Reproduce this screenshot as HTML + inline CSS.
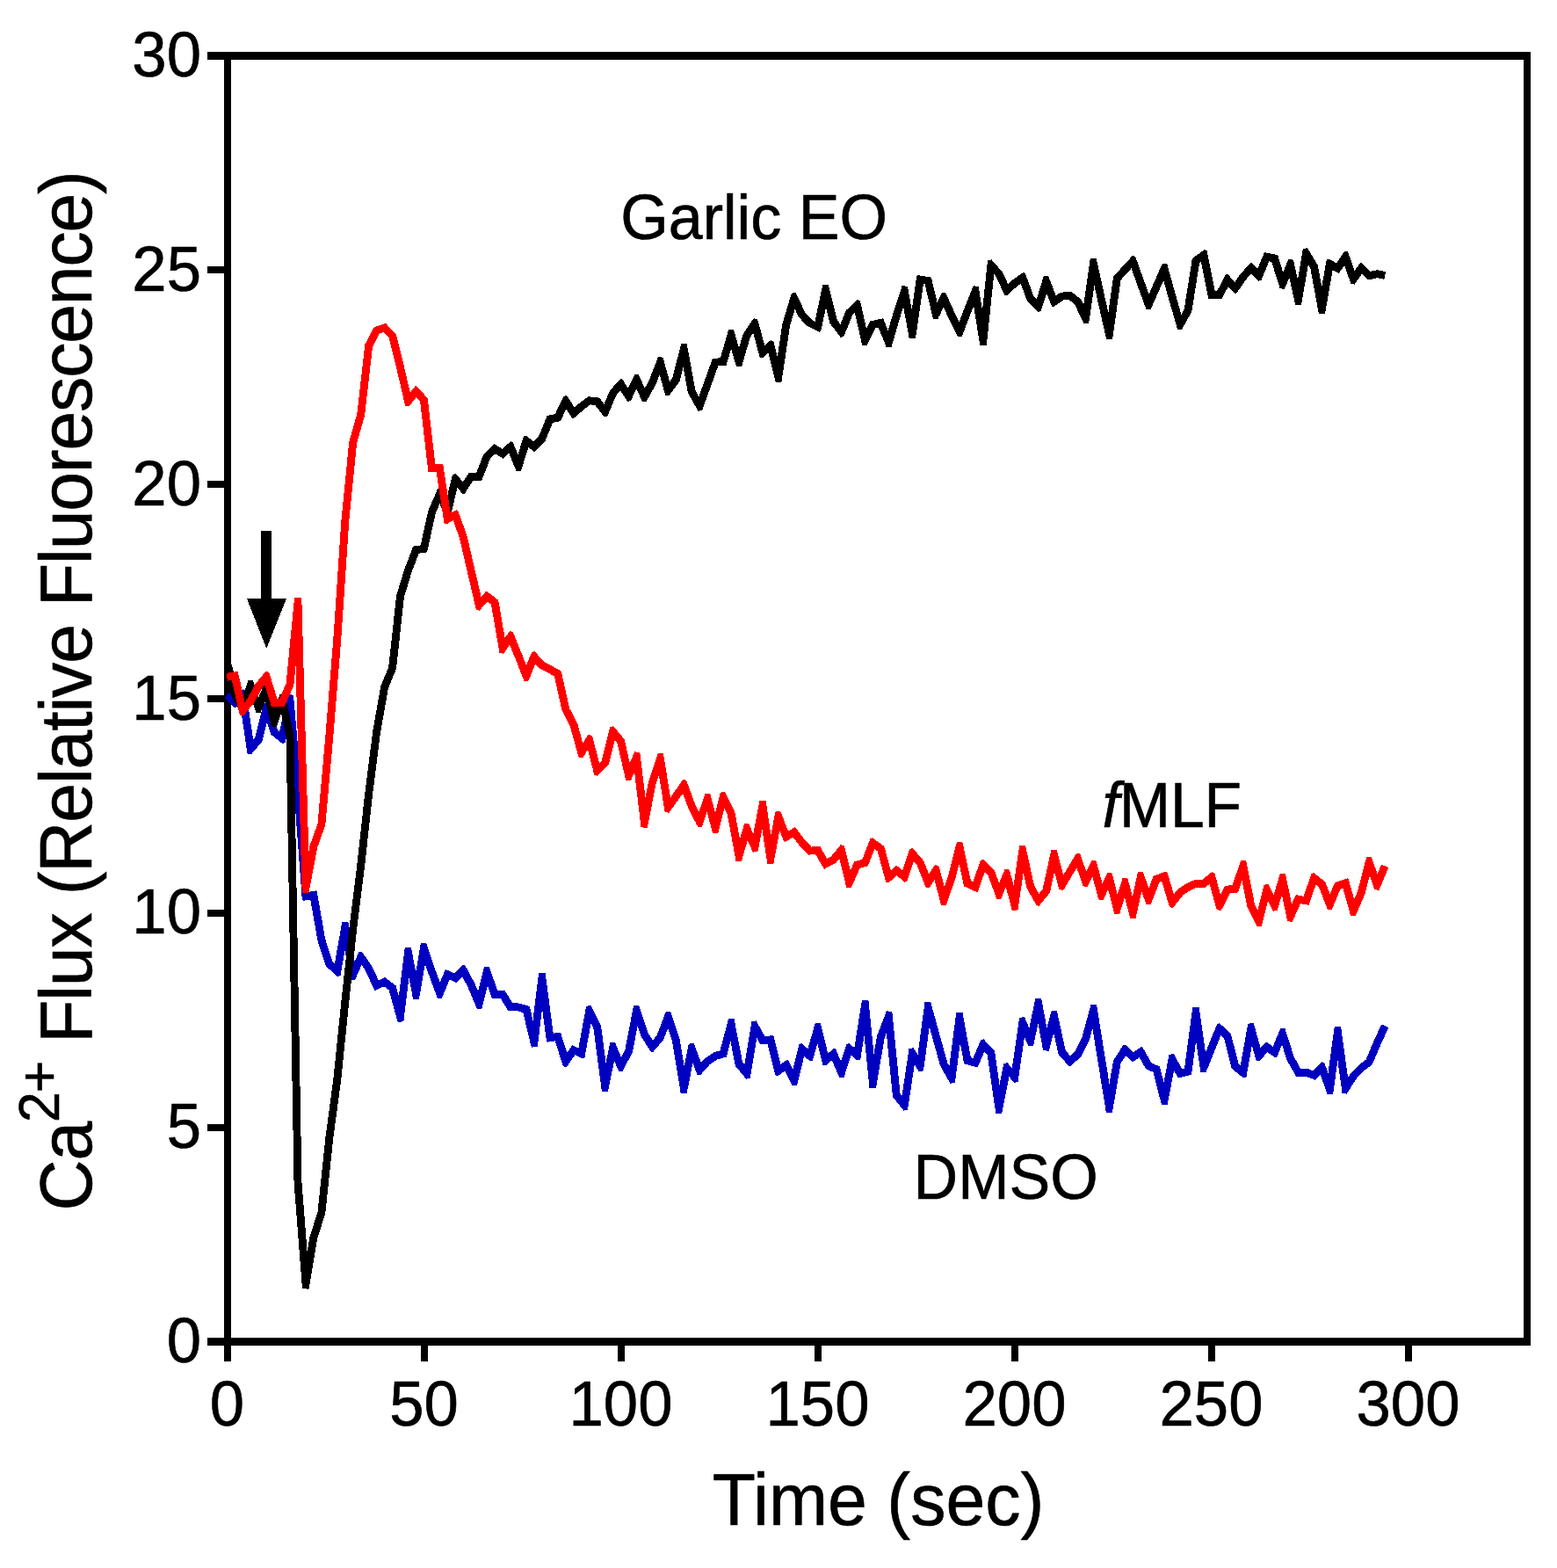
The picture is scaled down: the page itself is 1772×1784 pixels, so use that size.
<!DOCTYPE html>
<html lang="en"><head><meta charset="utf-8"><title>Ca2+ Flux (Relative Fluorescence) vs Time</title>
<style>html,body{margin:0;padding:0;background:#fff}svg{display:block}</style></head>
<body>
<svg width="1772" height="1784" viewBox="0 0 1772 1784" shape-rendering="crispEdges">
<rect x="0" y="0" width="1772" height="1784" fill="#ffffff"/>
<rect x="259.0" y="63.4" width="1479.0" height="1463.1" fill="none" stroke="#000" stroke-width="8.3" stroke-linejoin="miter"/>
<path d="M236 1526.5H259.0M236 1282.7H259.0M236 1038.8H259.0M236 795.0H259.0M236 551.1H259.0M236 307.2H259.0M236 63.4H259.0M259.0 1526.5V1549M483.0 1526.5V1549M707.0 1526.5V1549M931.0 1526.5V1549M1155.0 1526.5V1549M1379.0 1526.5V1549M1603.0 1526.5V1549" stroke="#000" stroke-width="8.3" fill="none"/>
<g fill="#0000c0" stroke="#0000c0"><polyline points="258.3,790.7 267.3,799.5 276.2,790.4 285.2,852.3 294.2,841.6 303.1,805.9 312.1,833.0 321.1,840.1 330.0,796.2 339.0,900.0 348.0,1019.9 356.9,1018.4 365.9,1069.7 374.8,1096.8 383.8,1105.1 392.8,1054.9 401.7,1109.3 410.7,1088.9 419.7,1101.9 428.6,1121.3 437.6,1117.2 446.6,1123.9 455.5,1156.8 464.5,1083.8 473.5,1130.8 482.4,1078.8 491.4,1105.3 500.4,1129.9 509.3,1108.8 518.3,1112.7 527.2,1103.9 536.2,1120.5 545.2,1142.1 554.1,1105.8 563.1,1131.5 572.1,1131.5 581.0,1145.9 590.0,1145.9 599.0,1148.5 607.9,1185.7 616.9,1112.8 625.9,1180.8 634.8,1179.5 643.8,1207.8 652.8,1194.7 661.7,1198.8 670.7,1150.1 679.7,1168.5 688.6,1235.9 697.6,1192.0 706.5,1212.9 715.5,1196.4 724.5,1149.9 733.4,1177.0 742.4,1191.1 751.4,1180.4 760.3,1156.9 769.3,1183.7 778.3,1238.0 787.2,1193.1 796.2,1217.5 805.2,1207.4 814.1,1201.5 823.1,1199.0 832.1,1165.1 841.0,1210.8 850.0,1221.6 859.0,1167.6 867.9,1183.7 876.9,1182.9 885.8,1218.4 894.8,1211.9 903.8,1229.3 912.7,1193.2 921.7,1201.4 930.7,1170.1 939.6,1206.5 948.6,1199.0 957.6,1220.2 966.5,1193.1 975.5,1200.5 984.5,1143.9 993.4,1232.5 1002.4,1179.5 1011.4,1156.4 1020.3,1246.4 1029.3,1257.5 1038.3,1198.4 1047.2,1213.1 1056.2,1146.1 1065.2,1178.7 1074.1,1210.8 1083.1,1226.6 1092.0,1158.0 1101.0,1206.6 1110.0,1209.2 1118.9,1188.4 1127.9,1198.1 1136.9,1260.8 1145.8,1215.3 1154.8,1225.8 1163.8,1163.3 1172.7,1184.5 1181.7,1141.8 1190.7,1189.7 1199.6,1156.1 1208.6,1197.3 1217.6,1207.6 1226.5,1199.8 1235.5,1182.1 1244.5,1149.1 1253.4,1204.4 1262.4,1259.7 1271.3,1208.3 1280.3,1194.3 1289.3,1202.7 1298.2,1196.8 1307.2,1212.5 1316.2,1216.8 1325.1,1251.5 1334.1,1205.1 1343.1,1221.5 1352.0,1219.3 1361.0,1152.0 1370.0,1214.4 1378.9,1192.2 1387.9,1170.2 1396.9,1178.7 1405.8,1213.4 1414.8,1220.6 1423.8,1170.2 1432.7,1201.4 1441.7,1191.2 1450.6,1197.4 1459.6,1176.1 1468.6,1204.1 1477.5,1220.1 1486.5,1220.1 1495.5,1223.4 1504.4,1214.3 1513.4,1239.5 1522.4,1174.0 1531.3,1238.5 1540.3,1224.4 1549.3,1215.1 1558.2,1208.3 1567.2,1187.1 1576.2,1167.2" fill="none" stroke-width="8.9" stroke-linejoin="bevel" stroke-linecap="butt"/><path d="M270.4 802.6L267.8 805.3L266.8 805.3L264.1 802.7L267.3 799.5ZM276.2 790.4L273.1 787.2L276.0 784.2L280.0 785.5L280.6 789.7ZM288.6 855.2L285.8 858.5L281.4 857.3L280.8 852.9L285.2 852.3ZM298.5 842.7L298.2 843.7L297.6 844.5L294.2 841.6ZM303.1 805.9L298.8 804.8L300.0 800.2L305.9 800.0L307.4 804.5ZM309.3 836.5L308.3 835.7L307.9 834.4L312.1 833.0ZM325.4 841.0L324.6 845.0L321.5 846.1L318.3 843.6L321.1 840.1ZM330.0 796.2L325.7 795.3L326.7 790.2L334.0 790.6L334.5 795.8ZM339.0 900.0L343.4 899.6L343.4 899.6L343.4 899.7ZM348.7 1024.2L345.0 1024.9L343.8 1023.9L343.5 1020.2L348.0 1019.9ZM356.9 1018.4L356.2 1014.0L359.9 1013.4L360.7 1013.9L361.3 1017.6ZM361.7 1071.1L361.6 1070.8L361.5 1070.5L365.9 1069.7ZM371.8 1100.1L371.0 1099.3L370.6 1098.2L374.8 1096.8ZM388.2 1105.9L387.5 1110.0L383.8 1111.2L380.8 1108.4L383.8 1105.1ZM392.8 1054.9L388.4 1054.1L389.3 1049.1L396.3 1049.1L397.2 1054.2ZM405.8 1111.1L403.9 1115.4L398.1 1114.7L397.3 1110.1L401.7 1109.3ZM410.7 1088.9L406.6 1087.1L408.3 1083.3L412.0 1082.9L414.4 1086.3ZM419.7 1101.9L423.3 1099.4L423.6 1099.7L423.7 1100.0ZM430.5 1125.4L427.1 1127.0L426.2 1126.6L424.6 1123.2L428.6 1121.3ZM437.6 1117.2L435.7 1113.2L438.1 1112.1L440.3 1113.6ZM446.6 1123.9L449.2 1120.3L450.5 1121.3L450.9 1122.7ZM459.9 1157.4L459.3 1162.4L452.6 1162.8L451.2 1158.0L455.5 1156.8ZM464.5 1083.8L460.1 1083.2L460.7 1078.1L467.9 1077.9L468.9 1082.9ZM477.8 1131.5L477.0 1136.5L470.0 1136.6L469.1 1131.6L473.5 1130.8ZM482.4 1078.8L478.0 1078.0L478.9 1073.3L485.1 1072.8L486.6 1077.4ZM487.2 1106.8L487.2 1106.8L487.2 1106.7L491.4 1105.3ZM504.5 1131.6L502.7 1135.8L497.7 1135.6L496.2 1131.4L500.4 1129.9ZM509.3 1108.8L505.2 1107.1L506.7 1103.6L507.7 1103.3L511.1 1104.7ZM521.4 1115.9L519.3 1118.0L516.5 1116.8L518.3 1112.7ZM527.2 1103.9L524.1 1100.7L526.9 1098.0L529.3 1098.4L531.2 1101.8ZM536.2 1120.5L540.1 1118.4L540.2 1118.6L540.3 1118.8ZM549.5 1143.2L548.4 1147.7L542.8 1148.1L541.1 1143.8L545.2 1142.1ZM554.1 1105.8L549.8 1104.7L551.0 1100.1L556.8 1099.9L558.3 1104.3ZM563.1 1136.0L559.9 1136.0L558.9 1133.0L563.1 1131.5ZM572.1 1131.5L572.1 1127.1L574.5 1127.1L575.9 1129.2ZM581.0 1150.4L578.6 1150.4L577.3 1148.3L581.0 1145.9ZM590.0 1145.9L590.0 1141.5L590.6 1141.5L591.2 1141.6ZM599.0 1148.5L600.2 1144.2L602.7 1144.9L603.3 1147.4ZM612.4 1186.2L611.7 1191.2L604.8 1191.6L603.6 1186.7L607.9 1185.7ZM616.9 1112.8L612.5 1112.2L613.1 1107.0L620.6 1107.0L621.3 1112.2ZM626.5 1185.2L622.8 1185.7L621.9 1185.1L621.5 1181.4L625.9 1180.8ZM634.8 1179.5L634.2 1175.1L637.9 1174.6L638.0 1174.6L639.1 1178.2ZM647.5 1210.4L645.1 1213.9L640.8 1213.3L639.6 1209.2L643.8 1207.8ZM652.8 1194.7L649.1 1192.2L651.2 1189.2L651.2 1189.2L654.6 1190.7ZM666.1 1199.6L665.4 1203.4L663.4 1204.4L659.9 1202.8L661.7 1198.8ZM670.7 1150.1L666.3 1149.3L667.2 1144.7L672.7 1144.0L674.7 1148.1ZM679.7 1168.5L683.7 1166.6L684.0 1167.2L684.1 1167.9ZM693.0 1236.8L692.0 1241.8L684.9 1241.6L684.2 1236.5L688.6 1235.9ZM697.6 1192.0L693.2 1191.1L694.2 1186.5L699.8 1185.9L701.7 1190.2ZM710.5 1215.0L708.4 1218.8L704.1 1218.6L702.5 1214.7L706.5 1212.9ZM719.9 1197.3L719.8 1198.0L719.4 1198.6L715.5 1196.4ZM724.5 1149.9L720.1 1149.1L721.0 1144.4L727.2 1144.0L728.7 1148.5ZM729.7 1179.4L729.4 1178.9L729.2 1178.4L733.4 1177.0ZM745.8 1193.9L743.3 1197.0L740.8 1196.8L738.7 1193.5L742.4 1191.1ZM755.5 1182.0L755.3 1182.6L754.8 1183.2L751.4 1180.4ZM760.3 1156.9L756.2 1155.3L757.8 1151.1L763.1 1151.2L764.6 1155.5ZM769.3 1183.7L773.5 1182.3L773.6 1182.7L773.7 1183.0ZM782.6 1238.9L781.6 1243.9L774.7 1243.7L773.9 1238.7L778.3 1238.0ZM787.2 1193.1L782.9 1192.3L783.8 1187.6L789.8 1187.1L791.4 1191.6ZM799.5 1220.5L796.8 1223.5L793.4 1222.9L792.0 1219.1L796.2 1217.5ZM805.2 1207.4L801.8 1204.5L802.2 1204.1L802.7 1203.7ZM814.1 1201.5L811.7 1197.8L812.3 1197.4L812.9 1197.2ZM827.4 1200.1L826.7 1202.6L824.3 1203.3L823.1 1199.0ZM832.1 1165.1L827.8 1163.9L829.0 1159.2L835.5 1159.4L836.4 1164.2ZM837.6 1213.7L836.9 1212.8L836.7 1211.7L841.0 1210.8ZM854.4 1222.3L853.7 1226.6L849.3 1227.8L846.6 1224.4L850.0 1221.6ZM859.0 1167.6L854.6 1166.8L855.3 1162.3L860.6 1161.4L862.8 1165.4ZM868.3 1188.2L865.4 1188.5L864.0 1185.9L867.9 1183.7ZM876.9 1182.9L876.5 1178.5L880.1 1178.1L880.3 1178.2L881.2 1181.8ZM888.5 1222.0L885.3 1224.4L882.5 1223.4L881.5 1219.5L885.8 1218.4ZM894.8 1211.9L892.2 1208.3L895.3 1206.1L897.0 1206.5L898.8 1209.9ZM908.1 1230.4L907.0 1234.8L901.9 1235.4L899.8 1231.4L903.8 1229.3ZM912.7 1193.2L908.4 1192.1L909.4 1188.1L912.8 1187.1L915.8 1189.9ZM926.0 1202.7L924.9 1206.6L921.7 1207.4L918.7 1204.7L921.7 1201.4ZM930.7 1170.1L926.4 1168.9L927.7 1164.3L933.8 1164.4L935.0 1169.1ZM942.5 1209.9L939.4 1212.5L936.3 1211.5L935.3 1207.6L939.6 1206.5ZM948.6 1199.0L945.7 1195.6L948.7 1193.1L951.2 1193.6L952.7 1197.2ZM961.8 1221.6L960.4 1225.9L955.2 1226.1L953.5 1221.9L957.6 1220.2ZM966.5 1193.1L962.3 1191.7L963.6 1187.9L966.3 1187.1L969.4 1189.7ZM979.9 1201.2L979.3 1205.3L975.8 1206.6L972.7 1204.0L975.5 1200.5ZM984.5 1143.9L980.1 1143.2L980.9 1138.0L988.4 1138.2L988.9 1143.5ZM997.8 1233.3L996.9 1238.4L989.5 1238.2L989.0 1233.0L993.4 1232.5ZM1002.4 1179.5L998.0 1178.8L998.1 1178.3L998.2 1177.9ZM1011.4 1156.4L1007.2 1154.8L1009.0 1150.2L1015.3 1151.1L1015.8 1155.9ZM1016.9 1249.2L1016.0 1248.2L1015.9 1246.8L1020.3 1246.4ZM1033.7 1258.1L1033.0 1262.4L1028.6 1263.7L1025.8 1260.3L1029.3 1257.5ZM1038.3 1198.4L1033.9 1197.7L1034.5 1193.2L1039.7 1192.2L1042.1 1196.1ZM1051.6 1213.7L1051.0 1218.2L1045.8 1219.3L1043.4 1215.4L1047.2 1213.1ZM1056.2 1146.1L1051.8 1145.5L1052.4 1140.5L1059.2 1140.1L1060.5 1144.9ZM1060.9 1179.9L1060.9 1179.9L1060.9 1179.8L1065.2 1178.7ZM1070.2 1213.0L1070.0 1212.6L1069.8 1212.0L1074.1 1210.8ZM1087.5 1227.2L1086.9 1231.8L1081.5 1232.8L1079.2 1228.8L1083.1 1226.6ZM1092.0 1158.0L1087.6 1157.4L1088.3 1152.3L1095.5 1152.1L1096.4 1157.2ZM1099.8 1210.9L1097.1 1210.1L1096.6 1207.4L1101.0 1206.6ZM1114.1 1211.0L1112.6 1214.4L1112.3 1214.6L1108.7 1213.5L1110.0 1209.2ZM1118.9 1188.4L1114.9 1186.6L1116.4 1182.9L1119.5 1182.4L1122.2 1185.3ZM1127.9 1198.1L1131.2 1195.1L1132.1 1196.1L1132.3 1197.5ZM1141.2 1261.7L1140.2 1266.7L1133.2 1266.5L1132.5 1261.5L1136.9 1260.8ZM1145.8 1215.3L1141.5 1214.4L1142.3 1210.2L1146.5 1209.1L1149.2 1212.4ZM1159.2 1226.4L1158.6 1230.7L1154.2 1232.0L1151.4 1228.7L1154.8 1225.8ZM1163.8 1163.3L1159.4 1162.7L1160.0 1157.9L1166.0 1157.2L1167.9 1161.6ZM1177.1 1185.4L1176.1 1190.0L1170.4 1190.5L1168.6 1186.2L1172.7 1184.5ZM1181.7 1141.8L1177.3 1140.9L1178.4 1136.0L1185.1 1136.1L1186.1 1141.0ZM1195.0 1190.8L1193.7 1195.6L1187.2 1195.4L1186.3 1190.5L1190.7 1189.7ZM1199.6 1156.1L1195.3 1154.9L1196.6 1150.2L1202.9 1150.4L1204.0 1155.1ZM1205.2 1200.2L1204.5 1199.4L1204.2 1198.2L1208.6 1197.3ZM1220.5 1210.9L1217.6 1213.4L1216.7 1213.3L1214.2 1210.5L1217.6 1207.6ZM1230.5 1201.8L1230.1 1202.6L1229.4 1203.2L1226.5 1199.8ZM1239.8 1183.2L1239.7 1183.7L1239.5 1184.1L1235.5 1182.1ZM1244.5 1149.1L1240.2 1147.9L1241.5 1143.1L1248.1 1143.5L1248.8 1148.4ZM1249.0 1205.1L1249.0 1205.1L1249.0 1205.1L1253.4 1204.4ZM1266.8 1260.5L1265.9 1265.5L1258.8 1265.5L1258.0 1260.4L1262.4 1259.7ZM1271.3 1208.3L1267.0 1207.5L1267.1 1206.6L1267.6 1205.9ZM1280.3 1194.3L1276.6 1191.9L1278.6 1188.7L1280.5 1188.5L1283.3 1191.1ZM1291.7 1206.4L1288.8 1208.3L1286.2 1205.9L1289.3 1202.7ZM1298.2 1196.8L1295.8 1193.1L1298.9 1191.0L1300.2 1191.3L1302.1 1194.6ZM1305.3 1216.6L1304.0 1216.0L1303.3 1214.7L1307.2 1212.5ZM1316.2 1216.8L1318.1 1212.7L1320.0 1213.6L1320.5 1215.6ZM1329.5 1252.4L1328.6 1257.2L1322.1 1257.4L1320.8 1252.6L1325.1 1251.5ZM1334.1 1205.1L1329.7 1204.3L1330.6 1199.8L1335.8 1199.0L1338.0 1203.0ZM1344.1 1225.8L1340.8 1226.6L1339.2 1223.6L1343.1 1221.5ZM1356.4 1219.9L1356.0 1222.9L1353.1 1223.6L1352.0 1219.3ZM1361.0 1152.0L1356.6 1151.4L1357.3 1146.2L1364.7 1146.2L1365.4 1151.3ZM1374.1 1216.0L1372.3 1220.5L1366.2 1219.8L1365.6 1215.0L1370.0 1214.4ZM1378.9 1192.2L1374.8 1190.5L1374.8 1190.5L1374.8 1190.5ZM1387.9 1170.2L1383.8 1168.6L1385.3 1164.9L1388.1 1164.3L1390.9 1167.0ZM1396.9 1178.7L1399.9 1175.4L1400.8 1176.3L1401.2 1177.6ZM1403.0 1216.8L1401.9 1215.9L1401.5 1214.5L1405.8 1213.4ZM1419.2 1221.3L1418.4 1225.4L1415.2 1226.6L1412.0 1224.0L1414.8 1220.6ZM1423.8 1170.2L1419.4 1169.4L1420.2 1164.6L1426.7 1164.3L1428.0 1169.0ZM1436.1 1204.3L1433.3 1207.5L1429.6 1206.6L1428.4 1202.6L1432.7 1201.4ZM1441.7 1191.2L1438.3 1188.3L1440.8 1185.5L1441.2 1185.4L1444.2 1187.5ZM1454.7 1199.1L1453.3 1202.6L1451.3 1203.2L1448.1 1201.0L1450.6 1197.4ZM1459.6 1176.1L1455.5 1174.4L1457.3 1170.2L1462.5 1170.4L1463.8 1174.7ZM1464.7 1206.2L1464.5 1205.8L1464.3 1205.4L1468.6 1204.1ZM1477.5 1224.6L1474.9 1224.6L1473.7 1222.3L1477.5 1220.1ZM1486.5 1220.1L1486.5 1215.7L1487.3 1215.7L1488.0 1216.0ZM1498.6 1226.6L1496.6 1228.6L1493.9 1227.6L1495.5 1223.4ZM1504.4 1214.3L1501.3 1211.2L1504.1 1208.3L1507.3 1209.0L1508.6 1212.8ZM1517.8 1240.1L1517.1 1244.9L1510.8 1245.5L1509.2 1241.0L1513.4 1239.5ZM1522.4 1174.0L1518.0 1173.4L1518.7 1168.2L1526.1 1168.2L1526.8 1173.3ZM1535.1 1240.9L1532.7 1244.7L1527.5 1243.6L1526.9 1239.1L1531.3 1238.5ZM1540.3 1224.4L1536.5 1222.0L1536.8 1221.6L1537.1 1221.3ZM1549.3 1215.1L1546.1 1212.0L1546.3 1211.7L1546.6 1211.5ZM1562.3 1210.0L1561.9 1211.1L1560.9 1211.8L1558.2 1208.3ZM1567.2 1187.1L1563.1 1185.4L1563.1 1185.4L1563.1 1185.3Z" stroke="none"/></g>
<g fill="#000000" stroke="#000000"><polyline points="259.4,756.8 267.3,790.0 276.2,806.0 285.2,779.8 294.2,804.8 303.1,784.0 312.1,820.9 321.1,796.0 330.0,837.0 339.0,1345.0 348.0,1460.6 356.9,1408.2 365.9,1379.5 374.8,1295.0 383.8,1228.0 392.8,1140.0 401.7,1057.0 410.7,985.0 419.7,903.0 428.6,833.0 437.6,782.0 446.6,760.0 455.5,678.5 464.5,649.0 473.5,625.6 482.4,624.3 491.4,583.0 500.4,562.1 509.3,582.5 518.3,545.2 527.2,555.9 536.2,542.2 545.2,542.2 554.1,519.3 563.1,510.8 572.1,516.2 581.0,508.3 590.0,530.3 599.0,501.5 607.9,508.4 616.9,498.9 625.9,476.9 634.8,475.2 643.8,456.2 652.8,470.2 661.7,462.5 670.7,455.8 679.7,456.8 688.6,468.4 697.6,447.3 706.5,437.1 715.5,450.7 724.5,431.9 733.4,451.6 742.4,435.4 751.4,412.2 760.3,444.3 769.3,432.1 778.3,397.0 787.2,445.6 796.2,461.7 805.2,437.1 814.1,412.1 823.1,411.7 832.1,381.1 841.0,411.5 850.0,381.3 859.0,368.4 867.9,401.5 876.9,393.2 885.8,428.9 894.8,369.3 903.8,339.2 912.7,358.3 921.7,367.6 930.7,372.1 939.6,329.9 948.6,365.9 957.6,377.7 966.5,355.8 975.5,347.1 984.5,387.4 993.4,369.4 1002.4,367.4 1011.4,389.6 1020.3,359.1 1029.3,331.3 1038.3,379.5 1047.2,318.1 1056.2,319.5 1065.2,357.3 1074.1,339.1 1083.1,359.1 1092.0,377.5 1101.0,354.1 1110.0,331.4 1118.9,387.6 1127.9,301.5 1136.9,311.7 1145.8,330.4 1154.8,322.2 1163.8,315.9 1172.7,339.7 1181.7,348.9 1190.7,320.2 1199.6,343.1 1208.6,337.1 1217.6,336.3 1226.5,343.1 1235.5,362.3 1244.5,299.9 1253.4,340.5 1262.4,380.3 1271.3,316.8 1280.3,306.7 1289.3,297.1 1298.2,321.9 1307.2,346.5 1316.2,326.1 1325.1,305.8 1334.1,338.0 1343.1,369.2 1352.0,353.2 1361.0,296.5 1370.0,290.1 1378.9,335.2 1387.9,335.4 1396.9,318.2 1405.8,327.9 1414.8,315.1 1423.8,304.8 1432.7,313.7 1441.7,292.2 1450.6,294.0 1459.6,322.8 1468.6,301.2 1477.5,341.1 1486.5,288.3 1495.5,303.3 1504.4,351.6 1513.4,300.3 1522.4,305.2 1531.3,292.0 1540.3,317.6 1549.3,304.9 1558.2,313.7 1567.2,311.7 1576.2,313.4" fill="none" stroke-width="8.9" stroke-linejoin="bevel" stroke-linecap="butt"/><path d="M263.4 792.2L263.1 791.6L262.9 791.0L267.3 790.0ZM280.4 807.4L279.0 811.6L274.5 812.0L272.3 808.2L276.2 806.0ZM285.2 779.8L281.0 778.4L282.5 774.0L287.8 774.0L289.4 778.3ZM298.2 806.6L296.5 810.7L291.5 810.5L290.0 806.3L294.2 804.8ZM303.1 784.0L299.0 782.2L300.9 778.0L306.4 778.5L307.4 782.9ZM316.3 822.4L314.7 826.8L308.9 826.5L307.8 821.9L312.1 820.9ZM321.1 796.0L316.9 794.5L318.5 790.0L324.4 790.4L325.4 795.0ZM330.0 837.0L334.4 836.1L334.5 836.5L334.5 836.9ZM334.5 1345.3L334.5 1345.2L334.5 1345.1L339.0 1345.0ZM352.3 1461.4L351.4 1466.6L343.9 1466.3L343.5 1461.0L348.0 1460.6ZM356.9 1408.2L352.5 1407.5L352.6 1407.2L352.7 1406.9ZM370.3 1380.0L370.3 1380.4L370.1 1380.8L365.9 1379.5ZM374.8 1295.0L370.4 1294.5L370.4 1294.5L370.4 1294.4ZM388.2 1228.5L388.2 1228.5L388.2 1228.6L383.8 1228.0ZM392.8 1140.0L388.3 1139.5L388.3 1139.5L388.4 1139.5ZM401.7 1057.0L397.3 1056.5L397.3 1056.5L397.3 1056.5ZM415.1 985.5L415.1 985.5L415.1 985.5L410.7 985.0ZM419.7 903.0L415.2 902.5L415.3 902.5L415.3 902.4ZM428.6 833.0L424.2 832.4L424.2 832.3L424.3 832.2ZM437.6 782.0L433.2 781.2L433.3 780.8L433.5 780.3ZM451.0 760.5L450.9 761.1L450.7 761.7L446.6 760.0ZM455.5 678.5L451.1 678.0L451.2 677.6L451.3 677.2ZM464.5 649.0L460.2 647.7L460.3 647.6L460.3 647.4ZM473.5 625.6L469.3 624.0L470.2 621.6L472.8 621.2ZM486.8 625.2L486.1 628.3L483.1 628.7L482.4 624.3ZM491.4 583.0L487.0 582.1L487.1 581.6L487.3 581.2ZM500.4 562.1L496.3 560.3L498.0 556.3L502.7 556.3L504.4 560.3ZM513.6 583.5L512.6 588.0L507.1 588.5L505.2 584.3L509.3 582.5ZM518.3 545.2L514.0 544.2L514.9 540.0L519.0 539.1L521.7 542.3ZM531.0 558.3L528.8 561.6L526.4 561.7L523.8 558.7L527.2 555.9ZM536.2 542.2L532.5 539.7L533.8 537.7L536.2 537.7ZM549.3 543.8L548.2 546.6L545.2 546.6L545.2 542.2ZM554.1 519.3L550.0 517.7L550.4 516.7L551.1 516.1ZM563.1 510.8L560.1 507.6L562.5 505.3L565.4 507.0ZM575.0 519.5L572.6 521.7L569.8 520.0L572.1 516.2ZM581.0 508.3L578.1 504.9L581.0 502.3L583.7 502.9L585.2 506.6ZM594.3 531.6L592.9 536.0L587.6 536.2L585.9 532.0L590.0 530.3ZM599.0 501.5L594.7 500.2L595.9 496.4L598.6 495.5L601.7 498.0ZM611.2 511.4L608.6 514.1L608.2 514.2L605.2 511.9L607.9 508.4ZM621.0 500.6L620.7 501.4L620.1 502.0L616.9 498.9ZM625.9 476.9L621.7 475.2L622.7 473.0L625.0 472.5ZM638.9 477.1L637.9 479.2L635.7 479.6L634.8 475.2ZM643.8 456.2L639.8 454.3L641.5 450.6L645.3 450.3L647.5 453.8ZM655.7 473.6L652.8 476.1L651.1 475.8L649.0 472.6L652.8 470.2ZM661.7 462.5L658.8 459.2L658.9 459.1L659.0 459.0ZM670.7 455.8L668.0 452.2L669.4 451.1L671.2 451.3ZM679.7 456.8L680.2 452.4L682.0 452.6L683.2 454.1ZM692.7 470.2L691.1 473.9L687.6 474.4L685.1 471.1L688.6 468.4ZM697.6 447.3L693.5 445.6L693.8 444.9L694.2 444.4ZM706.5 437.1L703.2 434.1L705.8 431.2L708.1 431.4L710.3 434.6ZM719.5 452.6L717.8 456.4L714.1 456.6L711.8 453.2L715.5 450.7ZM724.5 431.9L720.5 430.0L722.3 426.1L726.7 426.2L728.5 430.1ZM737.3 453.7L735.3 457.5L731.2 457.3L729.4 453.4L733.4 451.6ZM746.6 437.0L746.5 437.3L746.3 437.6L742.4 435.4ZM751.4 412.2L747.2 410.6L748.9 406.3L754.4 406.6L755.7 411.0ZM763.9 446.9L761.4 450.3L757.2 449.6L756.1 445.5L760.3 444.3ZM773.6 433.2L773.4 434.0L772.9 434.7L769.3 432.1ZM778.3 397.0L774.0 395.9L775.2 391.1L781.7 391.3L782.6 396.2ZM783.3 447.8L783.0 447.1L782.9 446.4L787.2 445.6ZM800.4 463.2L798.9 467.3L794.4 467.6L792.3 463.8L796.2 461.7ZM809.4 438.6L809.3 438.6L809.3 438.7L805.2 437.1ZM814.1 412.1L809.9 410.6L811.0 407.7L814.0 407.6ZM827.4 413.0L826.5 416.1L823.3 416.2L823.1 411.7ZM832.1 381.1L827.8 379.9L829.1 375.3L835.0 375.3L836.3 379.9ZM845.3 412.8L844.0 417.3L838.1 417.3L836.8 412.8L841.0 411.5ZM850.0 381.3L845.7 380.0L845.9 379.3L846.3 378.7ZM859.0 368.4L855.3 365.8L857.8 362.3L862.1 363.1L863.3 367.2ZM870.9 404.8L867.9 407.5L864.7 406.6L863.6 402.6L867.9 401.5ZM876.9 393.2L873.9 390.0L876.9 387.2L880.2 388.2L881.2 392.1ZM890.3 429.5L889.5 434.5L882.8 434.8L881.5 430.0L885.8 428.9ZM894.8 369.3L890.4 368.6L890.5 368.3L890.6 368.0ZM903.8 339.2L899.5 337.9L900.8 333.6L905.9 333.2L907.8 337.3ZM909.5 361.4L909.0 360.9L908.7 360.2L912.7 358.3ZM919.7 371.6L919.0 371.2L918.5 370.7L921.7 367.6ZM935.0 373.0L934.2 376.8L932.2 377.8L928.7 376.0L930.7 372.1ZM939.6 329.9L935.3 329.0L936.3 324.2L942.8 324.1L944.0 328.9ZM945.1 368.6L944.5 367.9L944.3 367.0L948.6 365.9ZM961.7 379.4L960.1 383.2L956.5 383.7L954.0 380.4L957.6 377.7ZM966.5 355.8L962.4 354.1L962.8 353.2L963.4 352.6ZM975.5 347.1L972.4 343.9L975.4 341.0L978.9 342.1L979.8 346.1ZM988.5 389.4L986.4 393.5L981.1 392.9L980.1 388.4L984.5 387.4ZM993.4 369.4L989.4 367.4L990.4 365.5L992.4 365.1ZM1002.4 367.4L1001.4 363.0L1005.0 362.2L1005.1 362.3L1006.5 365.7ZM1015.6 390.9L1014.3 395.3L1008.9 395.5L1007.2 391.3L1011.4 389.6ZM1020.3 359.1L1016.1 357.9L1016.1 357.8L1016.1 357.8ZM1029.3 331.3L1025.1 329.9L1026.5 325.3L1032.8 325.7L1033.7 330.4ZM1042.7 380.2L1041.9 385.2L1034.8 385.4L1033.9 380.3L1038.3 379.5ZM1047.2 318.1L1042.8 317.4L1043.4 313.7L1044.2 313.1L1047.9 313.7ZM1056.2 319.5L1056.9 315.1L1059.8 315.6L1060.5 318.5ZM1069.1 359.3L1067.1 363.4L1061.9 362.8L1060.8 358.4L1065.2 357.3ZM1074.1 339.1L1070.1 337.1L1072.0 333.2L1076.4 333.3L1078.2 337.2ZM1079.1 361.1L1079.0 361.0L1079.0 361.0L1083.1 359.1ZM1096.2 379.1L1094.6 383.1L1090.0 383.4L1088.0 379.4L1092.0 377.5ZM1101.0 354.1L1096.9 352.5L1096.9 352.5L1096.9 352.4ZM1110.0 331.4L1105.8 329.7L1107.6 325.3L1113.6 325.9L1114.4 330.7ZM1123.4 388.1L1122.8 393.3L1115.4 393.5L1114.5 388.3L1118.9 387.6ZM1127.9 301.5L1123.5 301.1L1123.9 296.7L1128.4 295.3L1131.2 298.6ZM1136.9 311.7L1140.2 308.8L1140.6 309.3L1140.9 309.8ZM1148.8 333.7L1145.9 336.3L1143.5 335.8L1141.8 332.3L1145.8 330.4ZM1154.8 322.2L1151.8 318.9L1152.0 318.8L1152.2 318.6ZM1163.8 315.9L1161.2 312.3L1164.4 310.0L1166.6 310.7L1167.9 314.3ZM1169.5 342.8L1168.9 342.1L1168.6 341.2L1172.7 339.7ZM1185.9 350.2L1184.7 354.1L1181.4 354.9L1178.5 352.0L1181.7 348.9ZM1190.7 320.2L1186.4 318.8L1187.8 314.5L1193.1 314.3L1194.8 318.5ZM1202.1 346.8L1198.9 349.0L1196.9 348.3L1195.5 344.8L1199.6 343.1ZM1208.6 337.1L1206.1 333.4L1207.0 332.8L1208.2 332.7ZM1217.6 336.3L1217.1 331.9L1218.9 331.7L1220.2 332.7ZM1226.5 343.1L1229.2 339.5L1230.1 340.2L1230.6 341.2ZM1239.9 362.9L1239.2 367.6L1233.4 368.5L1231.5 364.2L1235.5 362.3ZM1244.5 299.9L1240.0 299.2L1240.8 294.2L1247.7 294.0L1248.8 298.9ZM1249.1 341.5L1249.1 341.5L1249.1 341.5L1253.4 340.5ZM1266.8 380.9L1266.1 385.9L1259.2 386.2L1258.0 381.3L1262.4 380.3ZM1271.3 316.8L1266.9 316.2L1267.1 314.9L1268.0 313.9ZM1280.3 306.7L1277.0 303.7L1277.0 303.7L1277.1 303.6ZM1289.3 297.1L1286.0 294.0L1288.8 291.1L1292.1 291.8L1293.5 295.6ZM1294.1 323.4L1294.1 323.4L1294.1 323.4L1298.2 321.9ZM1311.3 348.3L1309.5 352.4L1304.5 352.2L1303.0 348.0L1307.2 346.5ZM1316.2 326.1L1312.1 324.3L1312.1 324.3L1312.1 324.3ZM1325.1 305.8L1321.1 304.0L1322.9 299.9L1328.2 300.3L1329.4 304.7ZM1329.8 339.2L1329.8 339.2L1329.8 339.2L1334.1 338.0ZM1346.9 371.4L1344.8 375.2L1340.0 374.7L1338.8 370.4L1343.1 369.2ZM1356.4 353.9L1356.3 354.7L1355.9 355.4L1352.0 353.2ZM1361.0 296.5L1356.6 295.8L1356.9 294.0L1358.4 292.9ZM1370.0 290.1L1367.4 286.5L1370.6 284.1L1373.5 285.3L1374.3 289.2ZM1378.8 339.7L1375.3 339.6L1374.6 336.1L1378.9 335.2ZM1391.8 337.5L1390.6 340.0L1387.8 339.9L1387.9 335.4ZM1396.9 318.2L1392.9 316.1L1394.7 312.6L1397.5 312.2L1400.1 315.1ZM1409.5 330.5L1407.3 333.6L1405.1 333.7L1402.5 330.9L1405.8 327.9ZM1414.8 315.1L1411.1 312.6L1411.3 312.4L1411.4 312.2ZM1423.8 304.8L1420.4 301.9L1422.9 299.1L1424.2 299.0L1426.9 301.7ZM1436.8 315.4L1435.3 319.1L1432.4 319.7L1429.6 316.9L1432.7 313.7ZM1441.7 292.2L1437.6 290.5L1439.0 287.2L1442.5 287.9ZM1450.6 294.0L1451.5 289.6L1454.1 290.1L1454.9 292.6ZM1463.7 324.5L1462.0 328.7L1456.7 328.4L1455.4 324.1L1459.6 322.8ZM1468.6 301.2L1464.5 299.4L1466.2 295.1L1471.9 295.6L1472.9 300.2ZM1481.9 341.8L1481.1 346.8L1474.3 347.0L1473.2 342.1L1477.5 341.1ZM1486.5 288.3L1482.1 287.5L1482.9 283.1L1488.0 282.1L1490.3 286.0ZM1495.5 303.3L1499.3 301.0L1499.7 301.7L1499.8 302.5ZM1508.8 352.4L1507.9 357.4L1501.0 357.5L1500.1 352.5L1504.4 351.6ZM1513.4 300.3L1509.0 299.5L1509.7 295.6L1512.1 294.5L1515.5 296.4ZM1526.0 307.7L1524.0 310.8L1523.5 310.9L1520.2 309.1L1522.4 305.2ZM1531.3 292.0L1527.6 289.5L1530.0 286.0L1534.1 286.5L1535.5 290.5ZM1543.9 320.1L1541.5 323.6L1537.5 323.0L1536.1 319.1L1540.3 317.6ZM1549.3 304.9L1545.6 302.3L1547.8 299.2L1549.6 299.0L1552.4 301.7ZM1559.2 318.0L1556.8 318.5L1555.1 316.8L1558.2 313.7ZM1567.2 311.7L1566.2 307.4L1567.1 307.2L1568.0 307.3Z" stroke="none"/></g>
<g fill="#ff0000" stroke="#ff0000"><polyline points="258.3,770.2 267.3,769.0 276.2,808.5 285.2,797.7 294.2,780.8 303.1,770.0 312.1,799.1 321.1,799.1 330.0,778.5 339.0,685.8 348.0,1010.2 356.9,963.2 365.9,938.0 374.8,838.0 383.8,727.0 392.8,593.0 401.7,503.2 410.7,471.9 419.7,393.2 428.6,376.2 437.6,372.9 446.6,382.2 455.5,417.7 464.5,456.5 473.5,445.2 482.4,455.0 491.4,532.8 500.4,532.8 509.3,590.6 518.3,586.0 527.2,610.8 536.2,649.7 545.2,688.5 554.1,678.4 563.1,685.3 572.1,737.5 581.0,724.2 590.0,746.2 599.0,768.9 607.9,747.1 616.9,757.2 625.9,761.5 634.8,766.5 643.8,807.2 652.8,824.1 661.7,856.3 670.7,842.2 679.7,876.7 688.6,868.0 697.6,832.4 706.5,843.2 715.5,882.3 724.5,861.5 733.4,935.8 742.4,890.0 751.4,863.1 760.3,918.6 769.3,906.1 778.3,893.2 787.2,917.1 796.2,934.9 805.2,909.0 814.1,942.1 823.1,907.1 832.1,925.6 841.0,973.8 850.0,943.1 859.0,963.6 867.9,916.7 876.9,976.8 885.8,929.1 894.8,952.0 903.8,946.9 912.7,958.6 921.7,968.1 930.7,967.5 939.6,982.9 948.6,978.1 957.6,967.3 966.5,1004.2 975.5,984.1 984.5,981.6 993.4,959.2 1002.4,965.5 1011.4,998.4 1020.3,990.4 1029.3,997.6 1038.3,971.2 1047.2,981.6 1056.2,1004.1 1065.2,990.2 1074.1,1023.9 1083.1,998.5 1092.0,963.7 1101.0,1005.3 1110.0,1009.3 1118.9,983.8 1127.9,992.6 1136.9,1016.9 1145.8,995.2 1154.8,1029.8 1163.8,968.0 1172.7,1008.7 1181.7,1024.8 1190.7,1013.7 1199.6,973.0 1208.6,1006.8 1217.6,991.7 1226.5,977.1 1235.5,1002.7 1244.5,985.1 1253.4,1017.9 1262.4,999.1 1271.3,1033.8 1280.3,1005.2 1289.3,1038.9 1298.2,998.0 1307.2,1023.2 1316.2,1000.2 1325.1,996.9 1334.1,1026.8 1343.1,1015.4 1352.0,1009.5 1361.0,1005.3 1370.0,1005.3 1378.9,998.0 1387.9,1029.8 1396.9,1012.1 1405.8,1011.2 1414.8,985.0 1423.8,1030.7 1432.7,1048.3 1441.7,1012.2 1450.6,1030.6 1459.6,1000.2 1468.6,1042.7 1477.5,1023.1 1486.5,1024.8 1495.5,999.0 1504.4,1006.1 1513.4,1028.8 1522.4,1007.8 1531.3,1004.8 1540.3,1036.6 1549.3,1015.4 1558.2,981.0 1567.2,1006.7 1576.2,985.3" fill="none" stroke-width="8.9" stroke-linejoin="bevel" stroke-linecap="butt"/><path d="M267.3 769.0L266.7 764.6L270.3 764.1L270.8 764.4L271.6 768.0ZM279.7 811.3L276.9 814.6L272.8 813.6L271.9 809.5L276.2 808.5ZM289.1 799.8L288.9 800.2L288.6 800.5L285.2 797.7ZM294.2 780.8L290.2 778.7L290.4 778.3L290.7 778.0ZM303.1 770.0L299.7 767.1L302.4 763.9L306.2 764.7L307.4 768.6ZM312.1 803.6L308.8 803.6L307.8 800.4L312.1 799.1ZM325.1 800.9L324.0 803.6L321.1 803.6L321.1 799.1ZM334.4 778.9L334.4 779.6L334.1 780.3L330.0 778.5ZM339.0 685.8L334.6 685.4L335.1 679.9L343.3 680.2L343.4 685.7ZM352.3 1011.1L351.3 1016.3L343.6 1015.7L343.5 1010.3L348.0 1010.2ZM356.9 963.2L352.5 962.4L352.6 962.0L352.7 961.7ZM370.3 938.4L370.3 939.0L370.1 939.5L365.9 938.0ZM379.3 838.4L379.3 838.4L379.3 838.4L374.8 838.0ZM388.3 727.3L388.2 727.3L388.2 727.4L383.8 727.0ZM392.8 593.0L388.3 592.7L388.3 592.6L388.3 592.6ZM401.7 503.2L397.3 502.8L397.4 502.4L397.5 502.0ZM415.1 472.4L415.1 472.8L415.0 473.1L410.7 471.9ZM419.7 393.2L415.2 392.7L415.3 391.8L415.7 391.1ZM428.6 376.2L424.7 374.2L425.5 372.7L427.1 372.1ZM437.6 372.9L436.1 368.8L438.8 367.8L440.8 369.8ZM446.6 382.2L449.8 379.1L450.6 379.9L450.9 381.1ZM455.5 417.7L459.8 416.6L459.9 416.7L459.9 416.7ZM468.0 459.2L465.3 462.6L461.1 461.6L460.2 457.5L464.5 456.5ZM473.5 445.2L470.0 442.4L472.3 439.5L474.2 439.4L476.7 442.2ZM482.4 455.0L485.7 452.0L486.7 453.0L486.8 454.5ZM491.4 537.3L487.7 537.3L487.4 537.0L487.0 533.4L491.4 532.8ZM500.4 532.8L500.4 528.4L504.1 528.4L504.2 528.5L504.8 532.2ZM511.4 594.6L507.9 596.4L505.5 595.2L504.9 591.3L509.3 590.6ZM518.3 586.0L516.2 582.1L519.6 580.3L521.2 580.9L522.5 584.5ZM527.2 610.8L531.4 609.3L531.5 609.5L531.6 609.8ZM531.9 650.7L531.9 650.7L531.9 650.7L536.2 649.7ZM548.5 691.4L545.7 694.6L541.8 693.6L540.8 689.5L545.2 688.5ZM554.1 678.4L550.8 675.4L553.3 672.6L553.9 672.6L556.9 674.8ZM563.1 685.3L565.8 681.8L567.2 682.8L567.5 684.5ZM575.8 740.0L573.3 743.7L568.4 742.7L567.7 738.3L572.1 737.5ZM581.0 724.2L577.4 721.8L579.7 718.3L583.6 718.7L585.2 722.6ZM590.0 746.2L594.1 744.5L594.1 744.6L594.1 744.6ZM603.1 770.6L601.4 774.7L596.5 774.6L594.8 770.5L599.0 768.9ZM607.9 747.1L603.8 745.4L605.4 741.7L608.6 741.2L611.3 744.2ZM615.0 761.3L614.2 760.9L613.6 760.2L616.9 757.2ZM625.9 761.5L627.8 757.4L627.9 757.5L628.1 757.6ZM634.8 766.5L637.0 762.7L638.7 763.7L639.2 765.6ZM639.9 809.3L639.6 808.7L639.4 808.1L643.8 807.2ZM652.8 824.1L656.7 822.0L656.9 822.5L657.0 822.9ZM665.5 858.7L663.2 862.4L658.6 861.7L657.4 857.5L661.7 856.3ZM670.7 842.2L666.9 839.8L669.3 836.1L673.9 836.8L675.0 841.1ZM682.7 879.9L679.8 882.7L676.4 881.7L675.3 877.8L679.7 876.7ZM692.9 869.1L692.6 870.4L691.7 871.2L688.6 868.0ZM697.6 832.4L693.3 831.3L694.3 827.2L698.3 826.3L701.0 829.5ZM706.5 843.2L710.0 840.4L710.7 841.2L710.9 842.2ZM719.6 884.1L717.8 888.4L712.2 887.8L711.2 883.3L715.5 882.3ZM724.5 861.5L720.4 859.7L722.3 855.3L728.3 856.2L728.9 861.0ZM737.8 936.6L736.8 941.7L729.6 941.4L729.0 936.3L733.4 935.8ZM742.4 890.0L738.0 889.2L738.1 888.9L738.2 888.6ZM751.4 863.1L747.2 861.6L748.7 857.0L755.0 857.5L755.8 862.3ZM763.9 921.2L761.4 924.8L756.7 923.6L755.9 919.3L760.3 918.6ZM773.0 908.7L772.9 908.7L772.9 908.7L769.3 906.1ZM778.3 893.2L774.6 890.6L777.0 887.2L781.0 887.7L782.4 891.6ZM783.3 919.1L783.2 918.9L783.1 918.7L787.2 917.1ZM800.4 936.4L799.0 940.5L794.2 940.8L792.2 936.9L796.2 934.9ZM805.2 909.0L801.0 907.5L802.5 903.1L808.2 903.3L809.5 907.8ZM818.4 943.2L817.2 947.9L811.1 947.9L809.8 943.3L814.1 942.1ZM823.1 907.1L818.8 906.0L819.9 901.6L825.1 901.0L827.1 905.1ZM832.1 925.6L836.1 923.7L836.3 924.2L836.4 924.8ZM845.3 975.1L843.9 979.8L837.5 979.5L836.6 974.7L841.0 973.8ZM850.0 943.1L845.7 941.8L847.0 937.4L852.2 937.1L854.1 941.3ZM863.3 964.4L862.4 969.0L856.8 969.6L854.9 965.3L859.0 963.6ZM867.9 916.7L863.5 915.9L864.5 910.9L871.6 911.0L872.3 916.1ZM881.3 977.6L880.3 982.7L873.2 982.5L872.5 977.5L876.9 976.8ZM885.8 929.1L881.5 928.3L882.4 923.6L888.3 923.1L890.0 927.5ZM897.0 955.9L893.7 957.8L892.1 957.2L890.7 953.6L894.8 952.0ZM903.8 946.9L901.6 943.0L904.8 941.2L905.1 941.2L907.3 944.2ZM909.5 961.7L909.4 961.5L909.2 961.3L912.7 958.6ZM922.0 972.5L919.9 972.7L918.5 971.1L921.7 968.1ZM930.7 967.5L930.4 963.0L933.1 962.8L934.5 965.2ZM941.7 986.8L938.5 988.6L937.7 988.3L935.8 985.1L939.6 982.9ZM952.0 980.9L951.5 981.6L950.7 982.0L948.6 978.1ZM957.6 967.3L954.1 964.4L956.8 961.1L960.9 962.1L961.9 966.2ZM970.6 1006.0L968.7 1010.2L963.3 1009.8L962.2 1005.3L966.5 1004.2ZM975.5 984.1L971.4 982.3L972.3 980.3L974.3 979.8ZM988.6 983.2L987.8 985.3L985.7 985.9L984.5 981.6ZM993.4 959.2L989.3 957.5L990.7 953.9L992.8 953.3L996.0 955.5ZM1002.4 965.5L1005.0 961.9L1006.3 962.8L1006.7 964.3ZM1014.3 1001.7L1011.3 1004.4L1008.1 1003.5L1007.1 999.6L1011.4 998.4ZM1020.3 990.4L1017.4 987.1L1020.1 984.6L1020.2 984.6L1023.1 986.9ZM1033.5 999.1L1032.2 1002.8L1029.6 1003.6L1026.5 1001.1L1029.3 997.6ZM1038.3 971.2L1034.0 969.8L1035.4 965.9L1038.9 965.2L1041.6 968.3ZM1047.2 981.6L1050.6 978.7L1051.1 979.2L1051.4 979.9ZM1059.9 1006.5L1057.6 1010.0L1053.6 1009.6L1052.1 1005.7L1056.2 1004.1ZM1065.2 990.2L1061.4 987.8L1063.8 984.1L1068.3 984.8L1069.5 989.0ZM1078.3 1025.4L1076.8 1029.8L1071.0 1029.6L1069.8 1025.1L1074.1 1023.9ZM1087.4 999.6L1087.3 999.8L1087.3 1000.0L1083.1 998.5ZM1092.0 963.7L1087.7 962.6L1089.0 957.9L1095.4 958.0L1096.4 962.8ZM1099.2 1009.3L1097.1 1008.4L1096.7 1006.2L1101.0 1005.3ZM1114.2 1010.8L1112.9 1014.4L1111.6 1014.9L1108.1 1013.4L1110.0 1009.3ZM1118.9 983.8L1114.7 982.4L1116.1 978.6L1119.2 977.9L1122.0 980.7ZM1127.9 992.6L1131.0 989.4L1131.7 990.1L1132.1 991.0ZM1141.0 1018.6L1139.3 1022.7L1134.2 1022.6L1132.7 1018.4L1136.9 1016.9ZM1145.8 995.2L1141.7 993.5L1143.5 989.2L1149.0 989.6L1150.1 994.0ZM1159.2 1030.4L1158.5 1035.4L1151.7 1035.8L1150.5 1030.9L1154.8 1029.8ZM1163.8 968.0L1159.4 967.4L1160.1 962.4L1167.0 962.1L1168.1 967.1ZM1168.8 1010.8L1168.5 1010.3L1168.4 1009.6L1172.7 1008.7ZM1185.1 1027.6L1182.6 1030.7L1179.7 1030.4L1177.8 1027.0L1181.7 1024.8ZM1195.0 1014.7L1194.8 1015.7L1194.1 1016.6L1190.7 1013.7ZM1199.6 973.0L1195.3 972.1L1196.3 967.3L1202.7 967.2L1203.9 971.9ZM1212.4 1009.1L1210.2 1012.9L1205.4 1012.2L1204.3 1008.0L1208.6 1006.8ZM1217.6 991.7L1213.7 989.5L1213.7 989.4L1213.8 989.4ZM1226.5 977.1L1222.7 974.7L1225.0 971.1L1229.3 971.5L1230.7 975.6ZM1239.5 1004.8L1237.5 1008.7L1232.7 1008.4L1231.3 1004.2L1235.5 1002.7ZM1244.5 985.1L1240.5 983.0L1242.5 979.0L1247.6 979.6L1248.7 983.9ZM1257.4 1019.8L1255.5 1023.9L1250.3 1023.4L1249.1 1019.1L1253.4 1017.9ZM1262.4 999.1L1258.4 997.2L1260.3 993.1L1265.6 993.6L1266.7 998.0ZM1275.6 1035.1L1274.2 1039.7L1268.2 1039.5L1267.0 1034.9L1271.3 1033.8ZM1280.3 1005.2L1276.1 1003.9L1277.5 999.4L1283.4 999.5L1284.6 1004.1ZM1293.6 1039.8L1292.6 1044.6L1286.2 1044.7L1285.0 1040.0L1289.3 1038.9ZM1298.2 998.0L1293.9 997.1L1294.9 992.5L1300.8 992.1L1302.4 996.5ZM1311.4 1024.8L1309.7 1029.0L1304.5 1028.9L1303.0 1024.7L1307.2 1023.2ZM1316.2 1000.2L1312.0 998.6L1312.8 996.7L1314.6 996.0ZM1325.1 996.9L1323.6 992.7L1327.1 991.4L1328.3 992.0L1329.4 995.6ZM1337.6 1029.6L1335.0 1032.9L1331.0 1032.1L1329.8 1028.1L1334.1 1026.8ZM1343.1 1015.4L1339.6 1012.7L1340.0 1012.1L1340.6 1011.7ZM1352.0 1009.5L1349.6 1005.8L1349.8 1005.6L1350.1 1005.5ZM1361.0 1005.3L1359.1 1001.3L1360.0 1000.8L1361.0 1000.8ZM1372.8 1008.7L1371.5 1009.7L1370.0 1009.7L1370.0 1005.3ZM1378.9 998.0L1376.1 994.6L1379.2 992.1L1382.1 993.0L1383.2 996.8ZM1391.9 1031.8L1389.8 1035.8L1384.8 1035.3L1383.6 1031.0L1387.9 1029.8ZM1396.9 1012.1L1392.9 1010.0L1394.0 1007.9L1396.4 1007.6ZM1410.0 1012.6L1409.1 1015.4L1406.2 1015.6L1405.8 1011.2ZM1414.8 985.0L1410.6 983.6L1412.1 979.0L1418.2 979.5L1419.2 984.2ZM1419.8 1032.7L1419.5 1032.1L1419.4 1031.5L1423.8 1030.7ZM1437.0 1049.4L1435.9 1053.8L1430.8 1054.4L1428.7 1050.4L1432.7 1048.3ZM1441.7 1012.2L1437.4 1011.1L1438.5 1006.7L1443.7 1006.1L1445.7 1010.2ZM1454.9 1031.9L1453.6 1036.2L1448.6 1036.6L1446.6 1032.6L1450.6 1030.6ZM1459.6 1000.2L1455.3 998.9L1456.7 994.3L1463.0 994.5L1464.0 999.3ZM1472.6 1044.6L1470.7 1048.8L1465.2 1048.2L1464.2 1043.7L1468.6 1042.7ZM1477.5 1023.1L1473.5 1021.2L1474.9 1018.0L1478.4 1018.7ZM1490.7 1026.2L1489.5 1029.7L1489.3 1029.8L1485.7 1029.1L1486.5 1024.8ZM1495.5 999.0L1491.3 997.6L1492.6 993.8L1495.2 993.1L1498.2 995.5ZM1504.4 1006.1L1507.2 1002.6L1508.1 1003.4L1508.6 1004.5ZM1517.5 1030.5L1515.7 1034.6L1510.9 1034.5L1509.3 1030.4L1513.4 1028.8ZM1522.4 1007.8L1518.3 1006.1L1519.1 1004.2L1520.9 1003.6ZM1531.3 1004.8L1529.9 1000.6L1533.5 999.4L1534.6 1000.0L1535.6 1003.6ZM1544.4 1038.3L1542.6 1042.5L1537.3 1042.2L1536.0 1037.8L1540.3 1036.6ZM1553.6 1016.6L1553.5 1016.9L1553.4 1017.2L1549.3 1015.4ZM1558.2 981.0L1553.9 979.9L1555.1 975.4L1560.9 975.1L1562.4 979.6ZM1571.3 1008.4L1569.6 1012.6L1564.5 1012.4L1563.0 1008.2L1567.2 1006.7Z" stroke="none"/></g>
<path d="M297.2 604H308.9V681.2H326L303.3 738L281 681.2H297.2Z" fill="#000"/>
<g font-family="'Liberation Sans', Arial, Helvetica, sans-serif" fill="#000" stroke="#000" stroke-width="0.6" stroke-linejoin="round"><text transform="translate(229.0 1550.0) scale(1 1.028)" font-size="70.7" text-anchor="end">0</text><text transform="translate(229.0 1306.2) scale(1 1.028)" font-size="70.7" text-anchor="end">5</text><text transform="translate(229.0 1062.3) scale(1 1.028)" font-size="70.7" text-anchor="end">10</text><text transform="translate(229.0 818.5) scale(1 1.028)" font-size="70.7" text-anchor="end">15</text><text transform="translate(229.0 574.6) scale(1 1.028)" font-size="70.7" text-anchor="end">20</text><text transform="translate(229.0 330.8) scale(1 1.028)" font-size="70.7" text-anchor="end">25</text><text transform="translate(229.0 86.9) scale(1 1.028)" font-size="70.7" text-anchor="end">30</text><text transform="translate(258.5 1622.2) scale(1 1.028)" font-size="70.7" text-anchor="middle">0</text><text transform="translate(482.5 1622.2) scale(1 1.028)" font-size="70.7" text-anchor="middle">50</text><text transform="translate(706.5 1622.2) scale(1 1.028)" font-size="70.7" text-anchor="middle">100</text><text transform="translate(930.5 1622.2) scale(1 1.028)" font-size="70.7" text-anchor="middle">150</text><text transform="translate(1154.5 1622.2) scale(1 1.028)" font-size="70.7" text-anchor="middle">200</text><text transform="translate(1378.5 1622.2) scale(1 1.028)" font-size="70.7" text-anchor="middle">250</text><text transform="translate(1602.5 1622.2) scale(1 1.028)" font-size="70.7" text-anchor="middle">300</text><text transform="translate(706.2 271.6) scale(1 1.02)" font-size="70.1" text-anchor="start">Garlic EO</text><text transform="translate(1254.6 940.5) scale(1 1.03)" font-size="69.6" text-anchor="start"><tspan font-style="italic">f</tspan>MLF</text><text transform="translate(1039.6 1363.6) scale(1 1.025)" font-size="70.1" text-anchor="start">DMSO</text><text transform="translate(999.6 1735.0) scale(1 1.035)" font-size="80.6" text-anchor="middle">Time (sec)</text><text transform="translate(104.1 1377.5) rotate(-90) scale(1 1.035)" font-size="80.5" letter-spacing="-1.17">Ca<tspan font-size="62.5" dy="-35.6">2+</tspan><tspan dy="35.6"> Flux (Relative Fluorescence)</tspan></text></g>
</svg>
</body></html>
